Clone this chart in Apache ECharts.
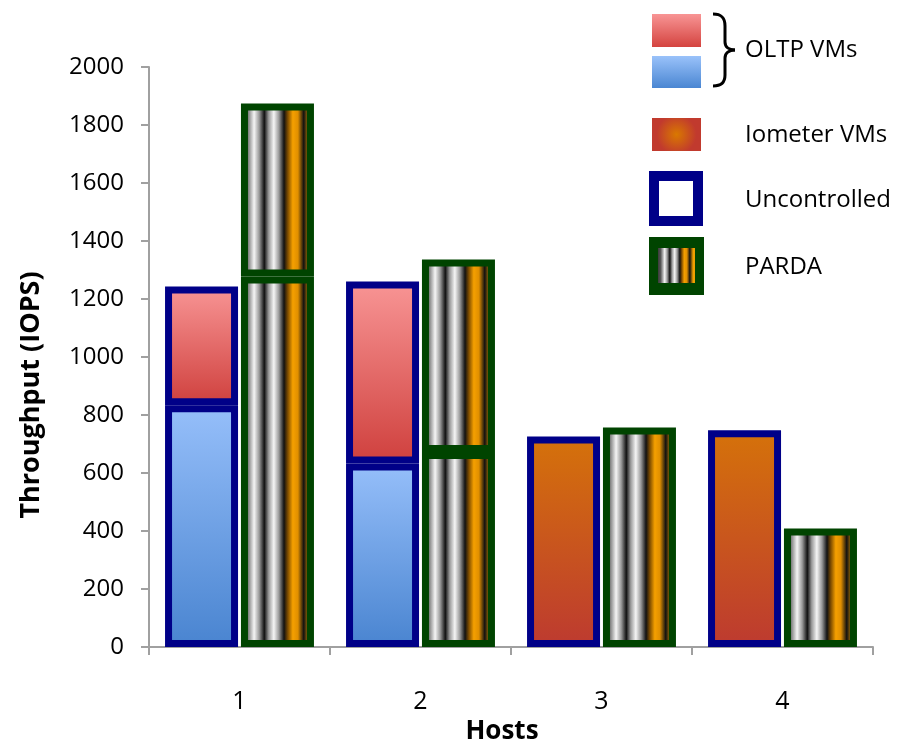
<!DOCTYPE html>
<html><head><meta charset="utf-8">
<script src="https://cdn.jsdelivr.net/npm/echarts@6/dist/echarts.min.js"></script>
<style>html,body{margin:0;padding:0;background:#fff}#c{width:897px;height:739px}</style>
</head><body><div id="c"></div>
<script>
const hosts = ['1', '2', '3', '4'];
const uncOltpLow  = [834, 633, null, null];
const uncOltpHigh = [409, 627, null, null];
const uncIometer  = [null, null, 726, 747];
const pardaOltpLow  = [1278, 672, null, null];
const pardaOltpHigh = [596, 664, null, null];
const pardaIometer  = [null, null, 757, 409];

const FONT = 'Open Sans';
const NAVY = '#000088';
const GREEN = '#004400';

function vgrad(top, bottom) {
  return new echarts.graphic.LinearGradient(0, 0, 0, 1, [
    {offset: 0, color: top}, {offset: 1, color: bottom}]);
}
function stripe() {
  return new echarts.graphic.LinearGradient(0, 0, 1, 0, [
    {offset: 0, color: '#3a3a3a'},
    {offset: 0.07, color: '#555555'},
    {offset: 0.18, color: '#f5f5f5'},
    {offset: 0.25, color: '#9a9a9a'},
    {offset: 0.32, color: '#111111'},
    {offset: 0.38, color: '#9a9a9a'},
    {offset: 0.45, color: '#f5f5f5'},
    {offset: 0.52, color: '#9a9a9a'},
    {offset: 0.59, color: '#111111'},
    {offset: 0.64, color: '#7a4a00'},
    {offset: 0.71, color: '#f5a000'},
    {offset: 0.78, color: '#e08f00'},
    {offset: 0.86, color: '#111111'},
    {offset: 0.95, color: '#f0a000'},
    {offset: 1, color: '#f0a000'}]);
}
const blueFill = vgrad('#96bffa', '#4984d0');
const redFill = vgrad('#f89595', '#cf403d');
const ioFill = vgrad('#d5720a', '#bd3a30');

function bar(name, stack, data, fill, border) {
  return {
    name, type: 'bar', stack, data, barWidth: 73, barGap: '4%',
    itemStyle: {color: fill, borderColor: border, borderWidth: 7},
    emphasis: {disabled: true}
  };
}
const braceStyle = {fill: null, stroke: '#000', lineWidth: 3};
function curve(x1, y1, cx1, cy1, cx2, cy2, x2, y2) {
  return {type: 'bezierCurve', shape: {x1, y1, cpx1: cx1, cpy1: cy1, cpx2: cx2, cpy2: cy2, x2, y2}, style: braceStyle};
}
function seg(x1, y1, x2, y2) {
  return {type: 'line', shape: {x1, y1, x2, y2}, style: braceStyle};
}

const chart = echarts.init(document.getElementById('c'));
chart.setOption({
  animation: false,
  grid: {left: 149, right: 24, top: 67, bottom: 92, containLabel: false, outerBoundsMode: 'none'},
  xAxis: {
    type: 'category', data: hosts,
    name: 'Hosts', nameLocation: 'middle', nameGap: 66,
    nameTextStyle: {fontFamily: FONT, fontSize: 26, fontWeight: 'bold', color: '#000', padding: [0, 18, 0, 0]},
    axisLine: {lineStyle: {color: '#a0a0a0', width: 2}},
    axisTick: {show: true, length: 8, lineStyle: {color: '#a0a0a0', width: 2}},
    axisLabel: {fontFamily: FONT, fontSize: 25, color: '#000', margin: 42}
  },
  yAxis: {
    type: 'value', min: 0, max: 2000, interval: 200,
    name: 'Throughput (IOPS)', nameLocation: 'middle', nameGap: 104,
    nameTextStyle: {fontFamily: FONT, fontSize: 27, fontWeight: 'bold', color: '#000', padding: [0, 76, 0, 0]},
    axisLine: {show: true, lineStyle: {color: '#a0a0a0', width: 2}},
    axisTick: {show: true, length: 8, lineStyle: {color: '#a0a0a0', width: 2}},
    axisLabel: {fontFamily: FONT, fontSize: 24, color: '#000', margin: 25, formatter: v => String(v)},
    splitLine: {show: false}
  },
  series: [
    bar('Uncontrolled OLTP (lower)', 'u', uncOltpLow, blueFill, NAVY),
    bar('Uncontrolled OLTP (upper)', 'u', uncOltpHigh, redFill, NAVY),
    bar('Uncontrolled Iometer', 'u', uncIometer, ioFill, NAVY),
    bar('PARDA OLTP (lower)', 'p', pardaOltpLow, stripe(), GREEN),
    bar('PARDA OLTP (upper)', 'p', pardaOltpHigh, stripe(), GREEN),
    bar('PARDA Iometer', 'p', pardaIometer, stripe(), GREEN)
  ],
  graphic: [
    {type: 'rect', shape: {x: 652, y: 14, width: 49, height: 33}, style: {fill: vgrad('#f89595', '#d4433f')}},
    {type: 'rect', shape: {x: 652, y: 56, width: 49, height: 32}, style: {fill: vgrad('#9ac2fa', '#4a86d2')}},
    curve(713, 14, 721, 14, 725, 17, 725, 26),
    seg(725, 26, 725, 42),
    curve(725, 42, 725, 47, 729, 50, 735, 50),
    curve(735, 50, 729, 50, 725, 53, 725, 58),
    seg(725, 58, 725, 75),
    curve(725, 75, 725, 83, 721, 86, 713, 86),
    {type: 'text', x: 745, y: 50, style: {text: 'OLTP VMs', font: '24px "Open Sans"', fill: '#000', verticalAlign: 'middle'}},
    {type: 'rect', shape: {x: 652, y: 118, width: 49, height: 33},
      style: {fill: new echarts.graphic.RadialGradient(0.5, 0.5, 0.6, [{offset: 0, color: '#d97800'}, {offset: 1, color: '#c13a2e'}])}},
    {type: 'text', x: 745, y: 135, style: {text: 'Iometer VMs', font: '24px "Open Sans"', fill: '#000', verticalAlign: 'middle'}},
    {type: 'rect', shape: {x: 654, y: 176, width: 44, height: 45}, style: {fill: '#fff', stroke: NAVY, lineWidth: 10}},
    {type: 'text', x: 745, y: 200, style: {text: 'Uncontrolled', font: '24px "Open Sans"', fill: '#000', verticalAlign: 'middle'}},
    {type: 'rect', shape: {x: 649, y: 237, width: 55, height: 58}, style: {fill: GREEN}},
    {type: 'rect', shape: {x: 658, y: 248, width: 37, height: 35}, style: {fill: stripe()}},
    {type: 'text', x: 745, y: 267, style: {text: 'PARDA', font: '24px "Open Sans"', fill: '#000', verticalAlign: 'middle'}}
  ]
});
</script>
</body></html>
